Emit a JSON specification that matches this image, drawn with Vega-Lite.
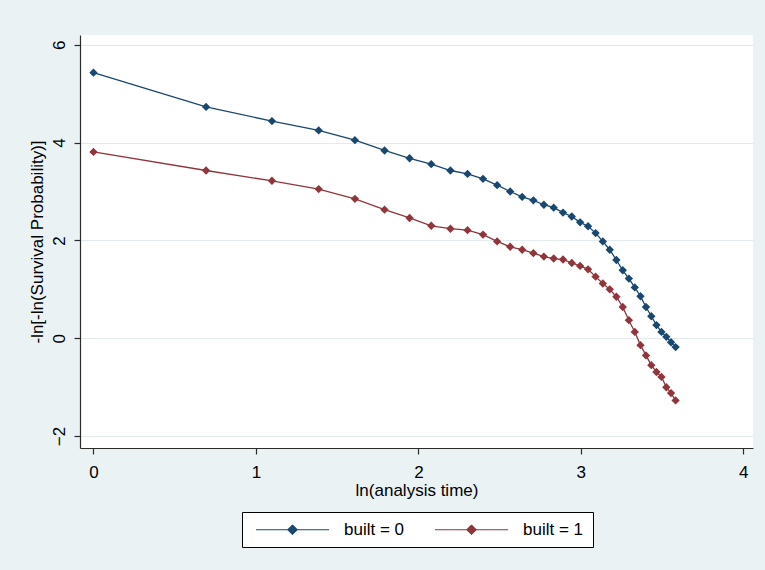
{
  "$schema": "https://vega.github.io/schema/vega-lite/v6.json",
  "autosize": "none",
  "width": 673,
  "height": 413,
  "padding": {"left": 80, "top": 35, "right": 12, "bottom": 122},
  "background": "#eaf2f3",
  "config": {
    "view": {"fill": "white", "stroke": null},
    "font": "Liberation Sans Narrow, Liberation Sans, Arial, sans-serif",
    "axis": {
      "labelFont": "Liberation Sans Narrow, Liberation Sans, Arial, sans-serif",
      "titleFont": "Liberation Sans Narrow, Liberation Sans, Arial, sans-serif",
      "labelFontSize": 17,
      "titleFontSize": 17,
      "titleFontWeight": "normal",
      "labelColor": "#000000",
      "titleColor": "#000000",
      "domainColor": "#2b2b2b",
      "tickColor": "#2b2b2b",
      "tickSize": 6,
      "domainWidth": 1.2,
      "tickWidth": 1.2
    },
    "legend": {
      "labelFont": "Liberation Sans Narrow, Liberation Sans, Arial, sans-serif"
    }
  },
  "data": {
    "values": [
      {"lnt": 0.0, "y": 5.43, "built": "built = 0"},
      {"lnt": 0.6931, "y": 4.73, "built": "built = 0"},
      {"lnt": 1.0986, "y": 4.44, "built": "built = 0"},
      {"lnt": 1.3863, "y": 4.25, "built": "built = 0"},
      {"lnt": 1.6094, "y": 4.05, "built": "built = 0"},
      {"lnt": 1.7918, "y": 3.84, "built": "built = 0"},
      {"lnt": 1.9459, "y": 3.68, "built": "built = 0"},
      {"lnt": 2.0794, "y": 3.56, "built": "built = 0"},
      {"lnt": 2.1972, "y": 3.43, "built": "built = 0"},
      {"lnt": 2.3026, "y": 3.36, "built": "built = 0"},
      {"lnt": 2.3979, "y": 3.26, "built": "built = 0"},
      {"lnt": 2.4849, "y": 3.13, "built": "built = 0"},
      {"lnt": 2.5649, "y": 3.0, "built": "built = 0"},
      {"lnt": 2.6391, "y": 2.89, "built": "built = 0"},
      {"lnt": 2.7081, "y": 2.82, "built": "built = 0"},
      {"lnt": 2.7726, "y": 2.73, "built": "built = 0"},
      {"lnt": 2.8332, "y": 2.67, "built": "built = 0"},
      {"lnt": 2.8904, "y": 2.57, "built": "built = 0"},
      {"lnt": 2.9444, "y": 2.49, "built": "built = 0"},
      {"lnt": 2.9957, "y": 2.37, "built": "built = 0"},
      {"lnt": 3.0445, "y": 2.29, "built": "built = 0"},
      {"lnt": 3.091, "y": 2.15, "built": "built = 0"},
      {"lnt": 3.1355, "y": 1.98, "built": "built = 0"},
      {"lnt": 3.1781, "y": 1.81, "built": "built = 0"},
      {"lnt": 3.2189, "y": 1.6, "built": "built = 0"},
      {"lnt": 3.2581, "y": 1.39, "built": "built = 0"},
      {"lnt": 3.2958, "y": 1.22, "built": "built = 0"},
      {"lnt": 3.3322, "y": 1.04, "built": "built = 0"},
      {"lnt": 3.3673, "y": 0.86, "built": "built = 0"},
      {"lnt": 3.4012, "y": 0.64, "built": "built = 0"},
      {"lnt": 3.434, "y": 0.45, "built": "built = 0"},
      {"lnt": 3.4657, "y": 0.27, "built": "built = 0"},
      {"lnt": 3.4965, "y": 0.13, "built": "built = 0"},
      {"lnt": 3.5264, "y": 0.03, "built": "built = 0"},
      {"lnt": 3.5553, "y": -0.08, "built": "built = 0"},
      {"lnt": 3.5835, "y": -0.18, "built": "built = 0"},
      {"lnt": 0.0, "y": 3.81, "built": "built = 1"},
      {"lnt": 0.6931, "y": 3.43, "built": "built = 1"},
      {"lnt": 1.0986, "y": 3.22, "built": "built = 1"},
      {"lnt": 1.3863, "y": 3.05, "built": "built = 1"},
      {"lnt": 1.6094, "y": 2.85, "built": "built = 1"},
      {"lnt": 1.7918, "y": 2.63, "built": "built = 1"},
      {"lnt": 1.9459, "y": 2.46, "built": "built = 1"},
      {"lnt": 2.0794, "y": 2.3, "built": "built = 1"},
      {"lnt": 2.1972, "y": 2.24, "built": "built = 1"},
      {"lnt": 2.3026, "y": 2.21, "built": "built = 1"},
      {"lnt": 2.3979, "y": 2.12, "built": "built = 1"},
      {"lnt": 2.4849, "y": 1.98, "built": "built = 1"},
      {"lnt": 2.5649, "y": 1.87, "built": "built = 1"},
      {"lnt": 2.6391, "y": 1.81, "built": "built = 1"},
      {"lnt": 2.7081, "y": 1.74, "built": "built = 1"},
      {"lnt": 2.7726, "y": 1.67, "built": "built = 1"},
      {"lnt": 2.8332, "y": 1.63, "built": "built = 1"},
      {"lnt": 2.8904, "y": 1.61, "built": "built = 1"},
      {"lnt": 2.9444, "y": 1.54, "built": "built = 1"},
      {"lnt": 2.9957, "y": 1.48, "built": "built = 1"},
      {"lnt": 3.0445, "y": 1.41, "built": "built = 1"},
      {"lnt": 3.091, "y": 1.26, "built": "built = 1"},
      {"lnt": 3.1355, "y": 1.12, "built": "built = 1"},
      {"lnt": 3.1781, "y": 1.0, "built": "built = 1"},
      {"lnt": 3.2189, "y": 0.85, "built": "built = 1"},
      {"lnt": 3.2581, "y": 0.64, "built": "built = 1"},
      {"lnt": 3.2958, "y": 0.37, "built": "built = 1"},
      {"lnt": 3.3322, "y": 0.13, "built": "built = 1"},
      {"lnt": 3.3673, "y": -0.14, "built": "built = 1"},
      {"lnt": 3.4012, "y": -0.35, "built": "built = 1"},
      {"lnt": 3.434, "y": -0.55, "built": "built = 1"},
      {"lnt": 3.4657, "y": -0.69, "built": "built = 1"},
      {"lnt": 3.4965, "y": -0.79, "built": "built = 1"},
      {"lnt": 3.5264, "y": -1.0, "built": "built = 1"},
      {"lnt": 3.5553, "y": -1.12, "built": "built = 1"},
      {"lnt": 3.5835, "y": -1.27, "built": "built = 1"}
    ]
  },
  "encoding": {
    "x": {
      "field": "lnt",
      "type": "quantitative",
      "scale": {"domain": [-0.083, 4.06], "nice": false, "zero": false},
      "axis": {
        "title": "ln(analysis time)",
        "values": [0, 1, 2, 3, 4],
        "format": "d",
        "grid": false,
        "labelPadding": 10,
        "titlePadding": 2
      }
    },
    "y": {
      "field": "y",
      "type": "quantitative",
      "scale": {"domain": [-2.243, 6.2], "nice": false, "zero": false},
      "axis": {
        "title": "-ln[-ln(Survival Probability)]",
        "values": [-2, 0, 2, 4, 6],
        "format": "d",
        "grid": true,
        "gridColor": "#e3eaed",
        "gridWidth": 1,
        "labelAngle": -90,
        "labelAlign": "center",
        "labelBaseline": "bottom",
        "labelPadding": 6,
        "titlePadding": 4
      }
    },
    "color": {
      "field": "built",
      "type": "nominal",
      "scale": {"domain": ["built = 0", "built = 1"], "range": ["#1a476f", "#90353b"]},
      "legend": {
        "title": null,
        "orient": "none",
        "legendX": 162,
        "legendY": 477,
        "direction": "horizontal",
        "fillColor": "white",
        "strokeColor": "#000000",
        "padding": 9,
        "symbolType": "M-1,0H19.9M9.43,-1.4L10.83,0L9.43,1.4L8.03,0Z",
        "symbolSize": 49,
        "symbolStrokeWidth": 1,
        "labelOffset": 76,
        "labelFontSize": 17,
        "labelColor": "#000000",
        "columnPadding": 25,
        "encode": {
          "symbols": {
            "update": {
              "fill": {"scale": "color", "field": "value"},
              "stroke": {"scale": "color", "field": "value"},
              "opacity": {"value": 1}
            }
          }
        }
      }
    }
  },
  "layer": [
    {"mark": {"type": "line", "strokeWidth": 1.3}},
    {"mark": {"type": "point", "shape": "diamond", "filled": true, "size": 70, "opacity": 1}}
  ]
}
